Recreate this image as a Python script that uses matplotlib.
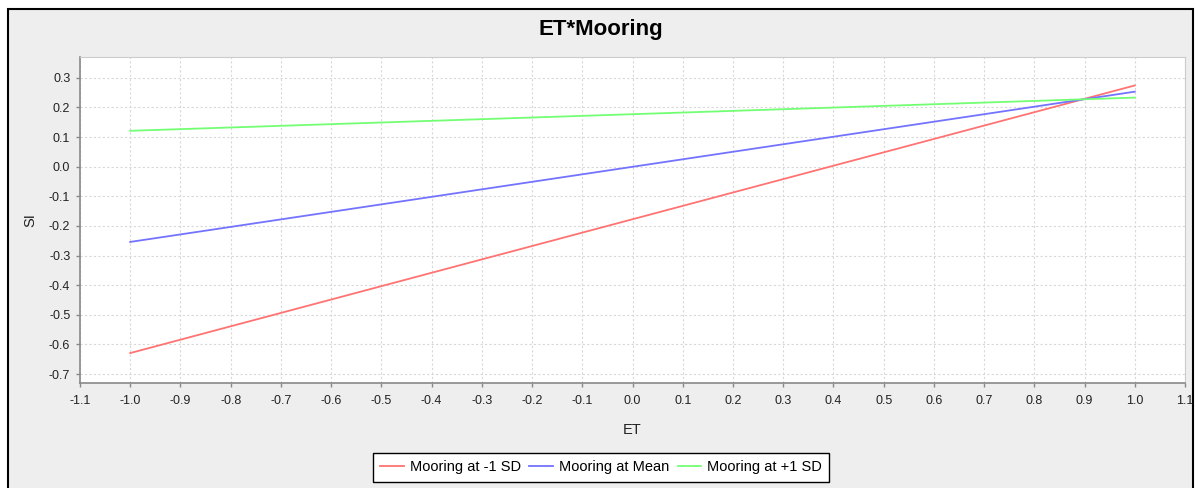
import matplotlib
matplotlib.use('Agg')
import matplotlib.pyplot as plt
from matplotlib.patches import Rectangle
import numpy as np

plt.rcParams['font.family'] = ['Liberation Sans', 'DejaVu Sans']

# data
et = [-1.0, 1.0]
si_low = [-0.629, 0.274]
si_mean = [-0.254, 0.253]
si_high = [0.121, 0.233]
labels = ['Mooring at -1 SD', 'Mooring at Mean', 'Mooring at +1 SD']
colors = ['#ff7373', '#7373ff', '#73ff73']

xticks = np.round(np.arange(-1.1, 1.11, 0.1), 1) + 0.0
yticks = np.round(np.arange(-0.7, 0.31, 0.1), 1) + 0.0

W, H = 1197, 488
fig = plt.figure(figsize=(W / 100, H / 100), dpi=100, facecolor='white')

# outer panel with black frame (bottom runs off the image)
fig.patches.append(Rectangle((8 / W, -0.2), (1193 - 8) / W, 0.2 + (H - 9) / H,
                             transform=fig.transFigure, facecolor='#eeeeee',
                             edgecolor='black', linewidth=1.5, zorder=-10))

ax = fig.add_axes([80 / W, (H - 383) / H, (1185 - 80) / W, (383 - 57) / H])
ax.set_facecolor('white')

for ys, c, lab in zip([si_low, si_mean, si_high], colors, labels):
    ax.plot(et, ys, color=c, linewidth=1.3, label=lab)

ax.set_xlim(-1.1, 1.1)
ax.set_ylim(-0.73, 0.37)
ax.set_xticks(xticks)
ax.set_yticks(yticks)
ax.set_xticklabels(['%.1f' % (0.0 if abs(v) < 1e-9 else v) for v in xticks])
ax.set_yticklabels(['%.1f' % (0.0 if abs(v) < 1e-9 else v) for v in yticks])
ax.grid(True, color='#d8d8d8', linestyle=(0, (2, 2)), linewidth=0.8)
ax.set_axisbelow(True)

for s in ['left', 'bottom']:
    ax.spines[s].set_color('#888888')
    ax.spines[s].set_linewidth(1.2)
for s in ['top', 'right']:
    ax.spines[s].set_color('#cccccc')
    ax.spines[s].set_linewidth(0.8)

ax.tick_params(axis='both', colors='#888888', labelcolor='#222222',
               labelsize=9, length=3, width=1, direction='out')
ax.tick_params(axis='x', pad=6)
ax.tick_params(axis='y', pad=4)

ax.set_xlabel('ET', fontsize=10.5, color='#222222', labelpad=11)
ax.set_ylabel('SI', fontsize=10.5, color='#222222', labelpad=8)

fig.text(601 / W, 1 - 30 / H, 'ET*Mooring', ha='center', va='center',
         fontsize=16, fontweight='bold', color='black')

leg = fig.legend(loc='upper center', bbox_to_anchor=(601 / W, (H - 453) / H),
                 ncol=3, fontsize=10.5, frameon=True, fancybox=False,
                 handlelength=1.6, handletextpad=0.4, columnspacing=0.6,
                 borderpad=0.5, borderaxespad=0)
leg.get_frame().set_edgecolor('black')
leg.get_frame().set_linewidth(1.0)
leg.get_frame().set_facecolor('white')
leg.get_frame().set_alpha(1)

fig.savefig('out.png', dpi=100)
